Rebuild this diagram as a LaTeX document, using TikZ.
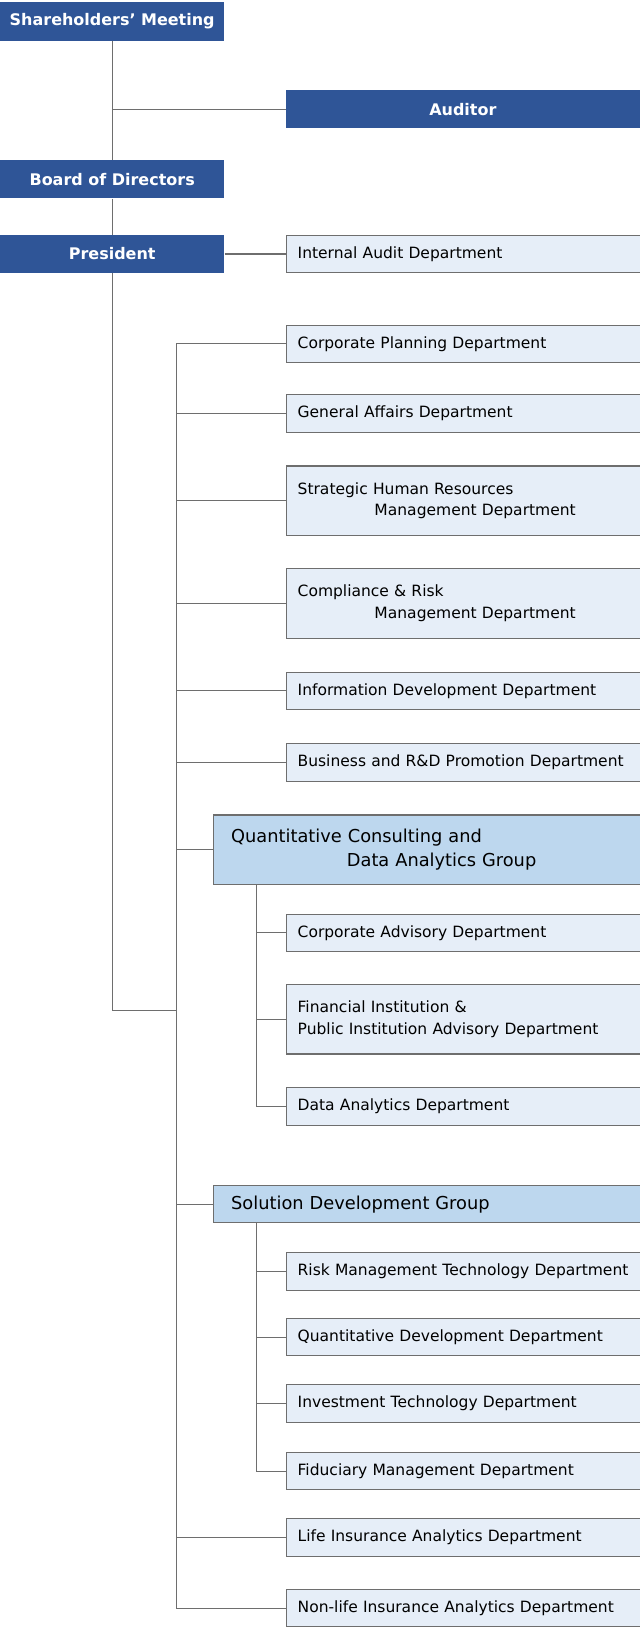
\documentclass[tikz,border=0pt]{standalone}
\usepackage{fontspec}
\setmainfont{DejaVu Sans}
\usetikzlibrary{positioning}
\definecolor{topblue}{HTML}{2F5597}
\definecolor{deptfill}{HTML}{E6EEF8}
\definecolor{grpfill}{HTML}{BDD7EE}
\definecolor{edge}{HTML}{6E6E6E}
\newcommand{\deptfont}{\fontsize{17}{24}\selectfont}

\begin{document}
\begin{tikzpicture}
    [
        x=0.4mm, y=-0.4mm,
        top/.style = {fill=topblue, text=white, shape=rectangle, minimum height=37*0.4mm, minimum width=216*0.4mm, font=\fontsize{17.5}{21}\selectfont\bfseries, inner sep=0pt},
        dept/.style = {draw=edge, fill=deptfill, line width=1.2pt, shape=rectangle, anchor=west, minimum height=36*0.4mm, text width=319*0.4mm, inner xsep=11*0.4mm, align=left, font=\deptfont},
        group/.style = {draw=edge, fill=grpfill, line width=1.2pt, shape=rectangle, anchor=west, text width=377*0.4mm, inner xsep=17*0.4mm, align=left, font=\fontsize{19.5}{26}\selectfont},
        link/.style = {draw=edge, line width=1.2pt},
    ]
    \useasboundingbox (0,0) rectangle (616,1568);

    \node[top] (share) at (108,20.5) {Shareholders’ Meeting};
    \node[top, minimum width=341*0.4mm] (auditor) at (445.5,105) {Auditor};
    \node[top] (board) at (108,172.5) {Board of Directors};
    \node[top] (pres) at (108,244.5) {President};
    \node[dept] (audit) at (275,244.5) {Internal Audit Department};

    \node[dept] (plan) at (275,331) {Corporate Planning Department};
    \node[dept] (affairs) at (275,398) {General Affairs Department};
    \node[dept, minimum height=67*0.4mm] (hr) at (275,482) {Strategic Human Resources\\\hspace*{4.95em}Management Department};
    \node[dept, minimum height=67*0.4mm] (risk) at (275,581) {Compliance \& Risk\\\hspace*{4.95em}Management Department};
    \node[dept] (info) at (275,665) {Information Development Department};
    \node[dept] (rnd) at (275,734) {Business and R\&D Promotion Department};

    \node[group, minimum height=67*0.4mm] (qcda) at (205,818) {Quantitative Consulting and\\\hspace*{6.5em}Data Analytics Group};
    \node[dept] (corpadv) at (275,898) {Corporate Advisory Department};
    \node[dept, minimum height=67*0.4mm] (finadv) at (275,981) {Financial Institution \&\\Public Institution Advisory Department};
    \node[dept] (data) at (275,1065) {Data Analytics Department};

    \node[group, minimum height=36*0.4mm] (soldev) at (205,1159) {Solution Development Group};
    \node[dept] (riskmgmt) at (275,1224) {Risk Management Technology Department};
    \node[dept] (quantdev) at (275,1287) {Quantitative Development Department};
    \node[dept] (invest) at (275,1351) {Investment Technology Department};
    \node[dept] (fiduc) at (275,1416) {Fiduciary Management Department};
    \node[dept] (life) at (275,1480) {Life Insurance Analytics Department};
    \node[dept] (nonlife) at (275,1548) {Non-life Insurance Analytics Department};

    \coordinate (spine) at (170,973);
    \coordinate (qtrunk) at (247,0);

    \draw[link] (share.south) -- (board.north);
    \draw[link] (108,105) -- (auditor.west);
    \draw[link] (board.south) -- (pres.north);
    \draw[link] (pres.east) -- (audit.west);
    \draw[link] (pres.south) |- (spine);
    \draw[link] (plan.west) -| (170,1548) -- (nonlife.west);

    \foreach \n in {affairs, hr, risk, info, rnd, qcda, soldev, life}
        \draw[link] (\n.west) -- (170,0 |- \n.west);

    \draw[link] (qtrunk |- qcda.south) |- (data.west);
    \foreach \n in {corpadv, finadv}
        \draw[link] (\n.west) -- (qtrunk |- \n.west);
    \draw[link] (qtrunk |- soldev.south) |- (fiduc.west);
    \foreach \n in {riskmgmt, quantdev, invest}
        \draw[link] (\n.west) -- (qtrunk |- \n.west);
\end{tikzpicture}
\end{document}
